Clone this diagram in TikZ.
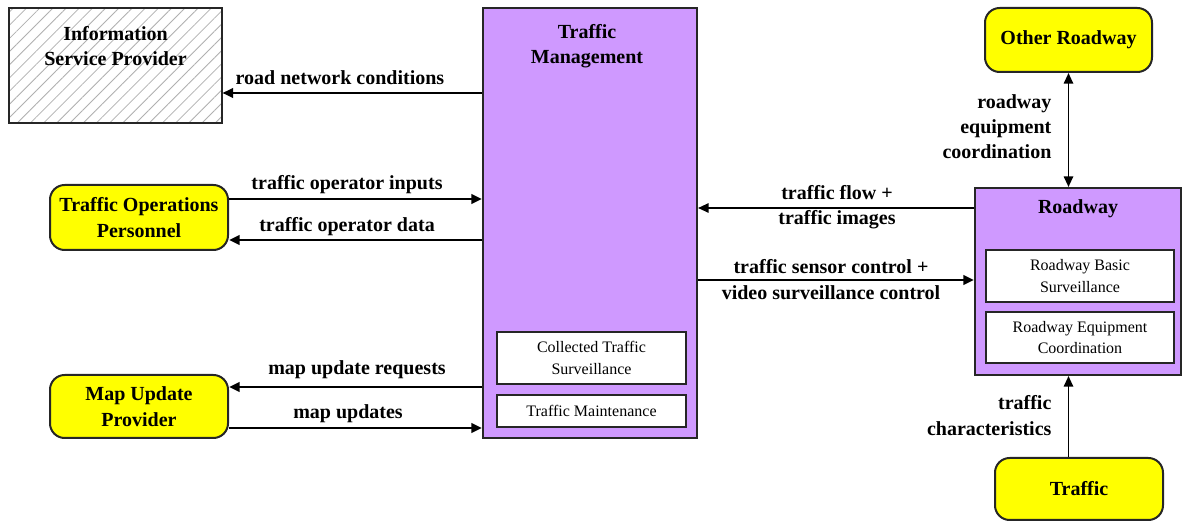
\documentclass[tikz,border=0pt]{standalone}
\usepackage{fontspec}
\setmainfont{Liberation Serif}
\usetikzlibrary{arrows.meta,patterns.meta}
\definecolor{actorfill}{HTML}{FFFF00}
\definecolor{sysfill}{HTML}{CF99FF}
\definecolor{hatch}{HTML}{B0B0B0}
\begin{document}
\begin{tikzpicture}[x=0.75pt,y=-0.75pt,
  boldtxt/.style={font=\bfseries\fontsize{15}{19}\selectfont, align=center},
  plaintxt/.style={font=\fontsize{12}{16}\selectfont, align=center},
  box/.style={draw=black!85, line width=1.5pt, inner sep=0pt},
  actor/.style={box, fill=actorfill, rounded corners=11pt, boldtxt},
  system/.style={box, fill=sysfill},
  subbox/.style={draw=black!85, line width=1.2pt, fill=white, inner sep=0pt, plaintxt},
  flow/.style={line width=2pt, -{Triangle[length=8pt,width=7pt]}},
  thinflow/.style={line width=1.4pt, -{Triangle[length=8pt,width=7pt]}},
  lbl/.style={boldtxt, inner sep=1pt}]
\useasboundingbox (0,0) rectangle (1183,523);

% external provider (hatched)
\node[box, preaction={fill=white}, pattern={Lines[angle=45,distance=7pt,line width=0.6pt]}, pattern color=hatch,
      minimum width=159.75pt, minimum height=86.25pt] (isp) at (115.5,65.5) {};
\node[boldtxt] (isptxt) at (115.5,46) {Information\\Service Provider};

% traffic management subsystem
\node[system, minimum width=160.5pt, minimum height=322.5pt] (tm) at (590,223) {};
\node[boldtxt] (tmtxt) at (587,46) {Traffic\\Management};
\node[subbox, minimum width=141.75pt, minimum height=39pt] (cts) at (591.5,358) {Collected Traffic\\Surveillance};
\node[subbox, minimum width=141.75pt, minimum height=24pt] (tmaint) at (591.5,411) {Traffic Maintenance};

% terminators
\node[actor, minimum width=133.5pt, minimum height=48.75pt] (top) at (139,217.5) {Traffic Operations\\Personnel};
\node[actor, minimum width=133.5pt, minimum height=47.25pt] (mup) at (139,406.5) {Map Update\\Provider};
\node[actor, minimum width=125.25pt, minimum height=48pt] (oroad) at (1068.5,40) {Other Roadway};
\node[actor, minimum width=126pt, minimum height=46.5pt] (traffic) at (1079,489) {Traffic};

% roadway subsystem
\node[system, minimum width=154.5pt, minimum height=140.25pt] (road) at (1078,281.5) {};
\node[boldtxt] (roadtxt) at (1078,209) {Roadway};
\node[subbox, minimum width=141pt, minimum height=39pt] (rbs) at (1080,276) {Roadway Basic\\Surveillance};
\node[subbox, minimum width=141pt, minimum height=38.25pt] (rec) at (1080,337.5) {Roadway Equipment\\Coordination};

% flows on the left side
\draw[flow] (tm.west |- 0,93) -- (isp.east |- 0,93);
\node[lbl] (l1) at (340,78) {road network conditions};
\draw[flow] (top.east |- 0,199) -- (tm.west |- 0,199);
\node[lbl] (l2) at (347,185) {traffic operator inputs};
\draw[flow] (tm.west |- 0,240) -- (top.east |- 0,240);
\node[lbl] (l3) at (347,227) {traffic operator data};
\draw[flow] (tm.west |- 0,387) -- (mup.east |- 0,387);
\node[lbl] (l4) at (357,370) {map update requests};
\draw[flow] (mup.east |- 0,428) -- (tm.west |- 0,428);
\node[lbl] (l5) at (348,414) {map updates};

% flows between traffic management and roadway
\draw[thinflow] (road.west |- 0,208) -- (tm.east |- 0,208);
\node[lbl] (l6) at (837,207.5) {traffic flow +\\traffic images};
\draw[flow] (tm.east |- 0,280) -- (road.west |- 0,280);
\node[lbl] (l7) at (831,279.5) {traffic sensor control +\\video surveillance control};

% vertical flows
\draw[thinflow, {Triangle[length=8pt,width=7pt]}-{Triangle[length=8pt,width=7pt]}] (oroad.south) -- (oroad.south |- road.north);
\node[lbl, anchor=east, align=right] (l8) at (1053,126.5) {roadway\\equipment\\coordination};
\draw[thinflow] (oroad.south |- traffic.north) -- (oroad.south |- road.south);
\node[lbl, anchor=east, align=right] (l9) at (1053,415.5) {traffic\\characteristics};
\end{tikzpicture}
\end{document}
